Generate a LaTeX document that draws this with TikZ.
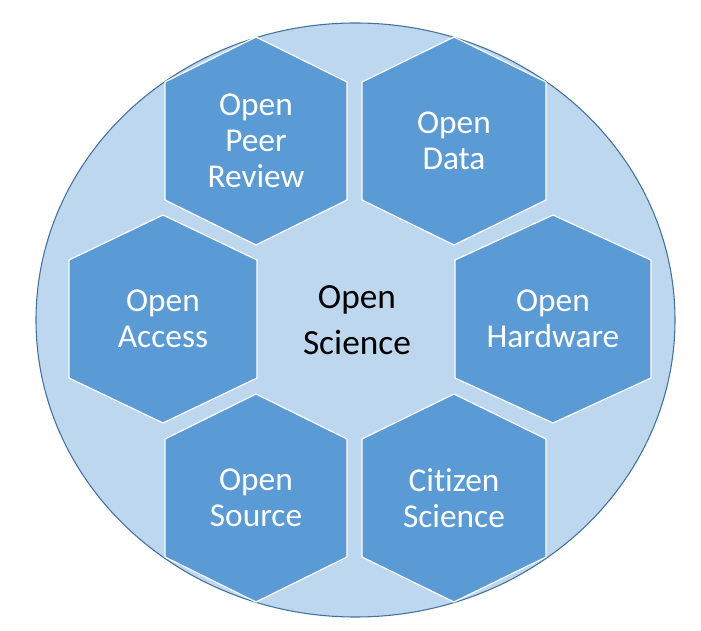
\documentclass[tikz,border=0pt]{standalone}
\usepackage{fontspec}
\setmainfont[Ligatures=CommonOff]{Carlito}
\usepackage{tikz}

\definecolor{cellblue}{HTML}{5B9BD5}
\definecolor{discblue}{HTML}{BDD7EE}
\definecolor{rimblue}{HTML}{41719C}

\begin{document}
\begin{tikzpicture}[x=0.75pt,y=-0.75pt,
    disc/.style={fill=discblue,draw=rimblue,line width=0.8pt},
    hexcell/.style={fill=cellblue,draw=white,line width=0.9pt},
    cell text/.style={align=center,text=white,font=\fontsize{25}{27}\selectfont},
    core text/.style={align=center,text=black,font=\fontsize{26.5}{34}\selectfont}]
  \useasboundingbox (0,0) rectangle (701,631);

  % background disc
  \draw[disc] (355.5,320) ellipse [x radius=319.5, y radius=297];

  % six cells round the middle
  \foreach \cx/\cy/\hw/\nm/\txt in {
      256/141/91/peer/{Open\\Peer\\Review},
      454/141/92/data/{Open\\Data},
      163/319/94/access/{Open\\Access},
      553/319/98/hardware/{Open\\Hardware},
      256/498/91/source/{Open\\Source},
      454/498/92/citizen/{Citizen\\Science}}{
    \filldraw[hexcell] (\cx,\cy-104) -- (\cx+\hw,\cy-59) -- (\cx+\hw,\cy+59)
      -- (\cx,\cy+104) -- (\cx-\hw,\cy+59) -- (\cx-\hw,\cy-59) -- cycle;
    \node[cell text] (\nm) at (\cx,\cy) {\txt};
  }

  \node[core text] (core) at (357,320) {Open\\Science};
\end{tikzpicture}
\end{document}
